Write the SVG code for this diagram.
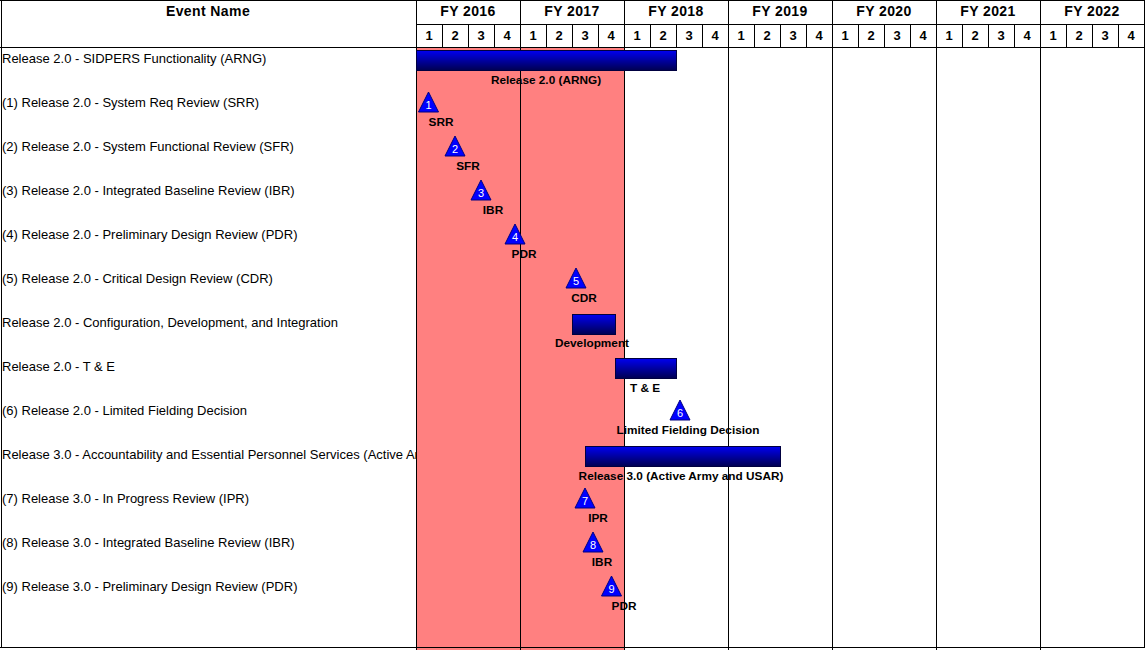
<svg xmlns="http://www.w3.org/2000/svg" width="1145" height="650" viewBox="0 0 1145 650">
<defs>
<linearGradient id="barg" x1="0" y1="0" x2="0" y2="1">
<stop offset="0" stop-color="#0000F0"/>
<stop offset="1" stop-color="#000050"/>
</linearGradient>
<clipPath id="leftclip"><rect x="0" y="48" width="416" height="600"/></clipPath>
</defs>
<style>
.hd{font-family:"Liberation Sans",Arial,sans-serif;font-size:14px;font-weight:bold;letter-spacing:0.4px;fill:#000;text-anchor:middle}
.q{font-family:"Liberation Sans",Arial,sans-serif;font-size:13px;font-weight:bold;fill:#000;text-anchor:middle}
.ev{font-family:"Liberation Sans",Arial,sans-serif;font-size:13px;fill:#000}
.lb{font-family:"Liberation Sans",Arial,sans-serif;font-size:11.8px;font-weight:bold;fill:#000;text-anchor:middle}
.num{font-family:"Liberation Sans",Arial,sans-serif;font-size:11px;fill:#fff;text-anchor:middle}
.bar{fill:url(#barg);stroke:#000040;stroke-width:1}
.tri{fill:#0000FF;stroke:#000080;stroke-width:1}
.ln{stroke:#000;stroke-width:1;fill:none}
</style>
<rect x="0" y="0" width="1145" height="650" fill="#fff"/>
<g id="current-period">
<rect x="417" y="48" width="207" height="602" fill="#FF8080"/>
</g>
<g id="grid">
<path class="ln" d="M0,0.5H1145 M0,47.5H1145 M0,647.5H1145 M1.5,0V648 M416.5,0V650 M1144.5,0V648 M416,24.5H1145"/>
<path class="ln" d="M520.5,0V650 M624.5,0V650 M728.5,0V650 M832.5,0V650 M936.5,0V650 M1040.5,0V650"/>
<path class="ln" d="M442.5,24V48 M468.5,24V48 M494.5,24V48 M546.5,24V48 M572.5,24V48 M598.5,24V48 M650.5,24V48 M676.5,24V48 M702.5,24V48 M754.5,24V48 M780.5,24V48 M806.5,24V48 M858.5,24V48 M884.5,24V48 M910.5,24V48 M962.5,24V48 M988.5,24V48 M1014.5,24V48 M1066.5,24V48 M1092.5,24V48 M1118.5,24V48"/>
</g>
<g id="header">
<text class="hd" x="208" y="16">Event Name</text>
<text class="hd" x="468" y="16">FY 2016</text>
<text class="hd" x="572" y="16">FY 2017</text>
<text class="hd" x="676" y="16">FY 2018</text>
<text class="hd" x="780" y="16">FY 2019</text>
<text class="hd" x="884" y="16">FY 2020</text>
<text class="hd" x="988" y="16">FY 2021</text>
<text class="hd" x="1092" y="16">FY 2022</text>
<g>
<text class="q" x="429" y="40">1</text><text class="q" x="455" y="40">2</text><text class="q" x="481" y="40">3</text><text class="q" x="507" y="40">4</text>
<text class="q" x="533" y="40">1</text><text class="q" x="559" y="40">2</text><text class="q" x="585" y="40">3</text><text class="q" x="611" y="40">4</text>
<text class="q" x="637" y="40">1</text><text class="q" x="663" y="40">2</text><text class="q" x="689" y="40">3</text><text class="q" x="715" y="40">4</text>
<text class="q" x="741" y="40">1</text><text class="q" x="767" y="40">2</text><text class="q" x="793" y="40">3</text><text class="q" x="819" y="40">4</text>
<text class="q" x="845" y="40">1</text><text class="q" x="871" y="40">2</text><text class="q" x="897" y="40">3</text><text class="q" x="923" y="40">4</text>
<text class="q" x="949" y="40">1</text><text class="q" x="975" y="40">2</text><text class="q" x="1001" y="40">3</text><text class="q" x="1027" y="40">4</text>
<text class="q" x="1053" y="40">1</text><text class="q" x="1079" y="40">2</text><text class="q" x="1105" y="40">3</text><text class="q" x="1131" y="40">4</text>
</g>
</g>
<g id="event-names" clip-path="url(#leftclip)">
<text class="ev" x="2" y="63">Release 2.0 - SIDPERS Functionality (ARNG)</text>
<text class="ev" x="2" y="107">(1) Release 2.0 - System Req Review (SRR)</text>
<text class="ev" x="2" y="151">(2) Release 2.0 - System Functional Review (SFR)</text>
<text class="ev" x="2" y="195">(3) Release 2.0 - Integrated Baseline Review (IBR)</text>
<text class="ev" x="2" y="239">(4) Release 2.0 - Preliminary Design Review (PDR)</text>
<text class="ev" x="2" y="283">(5) Release 2.0 - Critical Design Review (CDR)</text>
<text class="ev" x="2" y="327">Release 2.0 - Configuration, Development, and Integration</text>
<text class="ev" x="2" y="371">Release 2.0 - T &amp; E</text>
<text class="ev" x="2" y="415">(6) Release 2.0 - Limited Fielding Decision</text>
<text class="ev" x="2" y="459">Release 3.0 - Accountability and Essential Personnel Services (Active Army and USAR)</text>
<text class="ev" x="2" y="503">(7) Release 3.0 - In Progress Review (IPR)</text>
<text class="ev" x="2" y="547">(8) Release 3.0 - Integrated Baseline Review (IBR)</text>
<text class="ev" x="2" y="591">(9) Release 3.0 - Preliminary Design Review (PDR)</text>
</g>
<g id="bar-release20">
<rect class="bar" x="416.5" y="50.5" width="260" height="20"/>
<text class="lb" x="546" y="84">Release 2.0 (ARNG)</text>
</g>
<g id="ms-srr">
<polygon class="tri" points="428.5,92 418.5,112 438.5,112"/>
<text class="num" x="428.5" y="109">1</text>
<text class="lb" x="441" y="126">SRR</text>
</g>
<g id="ms-sfr">
<polygon class="tri" points="455,136 445,156 465,156"/>
<text class="num" x="455" y="153">2</text>
<text class="lb" x="468" y="170">SFR</text>
</g>
<g id="ms-ibr">
<polygon class="tri" points="481,180 471,200 491,200"/>
<text class="num" x="481" y="197">3</text>
<text class="lb" x="493" y="214">IBR</text>
</g>
<g id="ms-pdr">
<polygon class="tri" points="515,224 505,244 525,244"/>
<text class="num" x="515" y="241">4</text>
<text class="lb" x="524" y="258">PDR</text>
</g>
<g id="ms-cdr">
<polygon class="tri" points="576,268 566,288 586,288"/>
<text class="num" x="576" y="285">5</text>
<text class="lb" x="584" y="302">CDR</text>
</g>
<g id="bar-development">
<rect class="bar" x="572.5" y="314.5" width="43" height="20"/>
<text class="lb" x="592" y="347">Development</text>
</g>
<g id="bar-te">
<rect class="bar" x="615.5" y="358.5" width="61" height="20"/>
<text class="lb" x="645" y="392">T &amp; E</text>
</g>
<g id="ms-lfd">
<polygon class="tri" points="680,400 670,420 690,420"/>
<text class="num" x="680" y="417">6</text>
<text class="lb" x="688" y="434">Limited Fielding Decision</text>
</g>
<g id="bar-release30">
<rect class="bar" x="585.5" y="446.5" width="195" height="20"/>
<text class="lb" x="681" y="480">Release 3.0 (Active Army and USAR)</text>
</g>
<g id="ms-ipr">
<polygon class="tri" points="585,488 575,508 595,508"/>
<text class="num" x="585" y="505">7</text>
<text class="lb" x="598" y="522">IPR</text>
</g>
<g id="ms-ibr3">
<polygon class="tri" points="593,532 583,552 603,552"/>
<text class="num" x="593" y="549">8</text>
<text class="lb" x="602" y="566">IBR</text>
</g>
<g id="ms-pdr3">
<polygon class="tri" points="611.5,576 601.5,596 621.5,596"/>
<text class="num" x="611.5" y="593">9</text>
<text class="lb" x="624" y="610">PDR</text>
</g>
</svg>
